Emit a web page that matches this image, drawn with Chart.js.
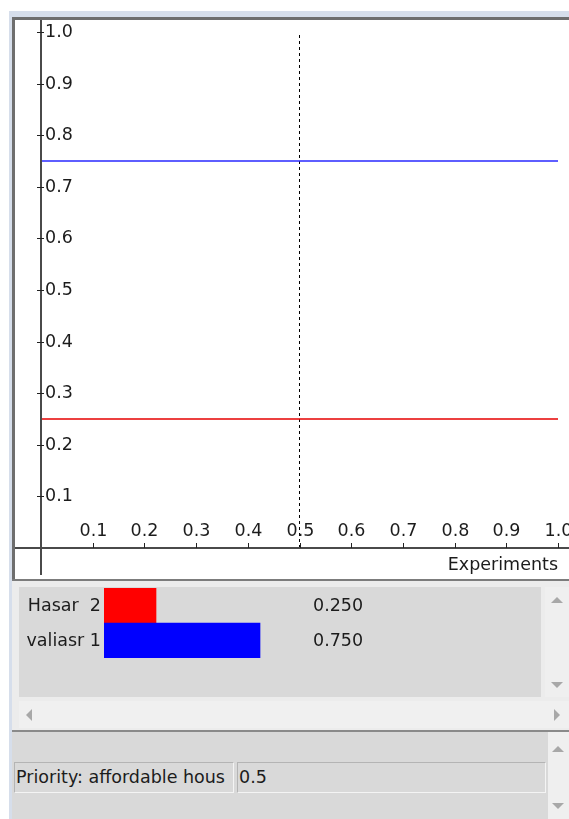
<!DOCTYPE html>
<html>
<head>
<meta charset="utf-8">
<script src="https://cdn.jsdelivr.net/npm/chart.js@4.4.1/dist/chart.umd.min.js"></script>
<style>
  body { margin: 0; width: 569px; height: 819px; overflow: hidden; background: #fff;
         font-family: "DejaVu Sans", sans-serif; font-size: 17.5px; color: #1c1c1c; position: relative; }
  .abs { position: absolute; }
  .up, .down, .left, .right { position: absolute; width: 0; height: 0; }
  .up { border-left: 6px solid transparent; border-right: 6px solid transparent; border-bottom: 6px solid #a8a8a8; }
  .down { border-left: 6px solid transparent; border-right: 6px solid transparent; border-top: 6px solid #a8a8a8; }
  .left { border-top: 6px solid transparent; border-bottom: 6px solid transparent; border-right: 6px solid #a8a8a8; }
  .right { border-top: 6px solid transparent; border-bottom: 6px solid transparent; border-left: 6px solid #a8a8a8; }
  .cell { position: absolute; box-sizing: border-box; height: 31px; line-height: 29px; padding-left: 1px;
          background: #d9d9d9; border: 1px solid #b4b4b4; border-right-color: #f4f4f4; border-bottom-color: #f4f4f4;
          white-space: nowrap; overflow: hidden; }
</style>
</head>
<body>
<!-- window frame -->
<div class="abs" style="left:9px;top:11px;width:560px;height:6px;background:#d6deeb"></div>
<div class="abs" style="left:9px;top:11px;width:3px;height:808px;background:#d6deeb"></div>
<div class="abs" style="left:12px;top:17px;width:557px;height:3px;background:#6e6e6e"></div>
<div class="abs" style="left:12px;top:17px;width:3px;height:563px;background:#6e6e6e"></div>

<!-- plot -->
<div class="abs" style="left:15px;top:20px;width:554px;height:559px">
  <canvas id="plot"></canvas>
</div>

<!-- alternatives list -->
<div class="abs" style="left:12px;top:579px;width:557px;height:152px;background:#ececec;border-top:2px solid #7c7c7c"></div>
<div class="abs" style="left:19px;top:587px;width:522px;height:110px;background:#d9d9d9">
  <canvas id="bars"></canvas>
</div>
<div class="abs" style="left:545px;top:587px;width:24px;height:110px;background:#efefef">
  <div class="up" style="left:6px;top:10px"></div>
  <div class="down" style="left:6px;top:95px"></div>
</div>
<div class="abs" style="left:19px;top:701px;width:550px;height:27px;background:#f0f0f0">
  <div class="left" style="left:7px;top:8px"></div>
  <div class="right" style="left:535px;top:8px"></div>
</div>

<!-- priority panel -->
<div class="abs" style="left:12px;top:730px;width:557px;height:89px;background:#d9d9d9;border-top:2px solid #8a8a8a"></div>
<div class="cell" style="left:14px;top:762px;width:220px">Priority: affordable hous</div>
<div class="cell" style="left:237px;top:762px;width:309px">0.5</div>
<div class="abs" style="left:548px;top:732px;width:21px;height:87px;background:#efefef">
  <div class="up" style="left:4px;top:14px"></div>
  <div class="down" style="left:4px;top:71px"></div>
</div>

<script>
// sensitivity data
const alternatives = ['Hasar  2', 'valiasr 1'];
const priorities = [0.25, 0.75];
const lineX = [0, 1];
const hasarY = [0.25, 0.25];
const valiasrY = [0.75, 0.75];
const currentPriority = 0.5;
const xTicks = [0.1, 0.2, 0.3, 0.4, 0.5, 0.6, 0.7, 0.8, 0.9, 1.0];
const yTicks = [0.1, 0.2, 0.3, 0.4, 0.5, 0.6, 0.7, 0.8, 0.9, 1.0];
const xTickLabels = ['0.1', '0.2', '0.3', '0.4', '0.5', '0.6', '0.7', '0.8', '0.9', '1.0'];
const yTickLabels = ['0.1', '0.2', '0.3', '0.4', '0.5', '0.6', '0.7', '0.8', '0.9', '1.0'];
const xTitle = 'Experiments';

const FONT = '17.5px "DejaVu Sans", sans-serif';
const INK = '#1c1c1c';

// axes drawn by hand, like the old java plot: labels inside
const axesPlugin = {
  id: 'axes',
  afterDraw(chart) {
    const ctx = chart.ctx;
    const a = chart.chartArea;
    const xs = chart.scales.x, ys = chart.scales.y;
    const left = Math.round(a.left), bottom = Math.round(a.bottom);
    ctx.save();
    ctx.strokeStyle = '#4a4a4a';
    ctx.lineWidth = 2;
    ctx.beginPath();
    ctx.moveTo(left, 0);
    ctx.lineTo(left, chart.height - 4);
    ctx.moveTo(0, bottom);
    ctx.lineTo(chart.width, bottom);
    ctx.stroke();

    ctx.lineWidth = 1;
    ctx.strokeStyle = '#222';
    ctx.fillStyle = INK;
    ctx.font = FONT;

    ctx.textAlign = 'left';
    ctx.textBaseline = 'middle';
    yTicks.forEach((v, i) => {
      const y = Math.round(ys.getPixelForValue(v)) + 0.5;
      ctx.beginPath();
      ctx.moveTo(left - 4, y);
      ctx.lineTo(left + 3, y);
      ctx.stroke();
      ctx.fillText(yTickLabels[i], left + 4, y);
    });

    ctx.textAlign = 'center';
    ctx.textBaseline = 'alphabetic';
    xTicks.forEach((v, i) => {
      const x = Math.round(xs.getPixelForValue(v)) + 0.5;
      ctx.beginPath();
      ctx.moveTo(x, bottom - 5);
      ctx.lineTo(x, bottom);
      ctx.stroke();
      ctx.fillText(xTickLabels[i], x, bottom - 12);
    });

    ctx.textAlign = 'right';
    ctx.textBaseline = 'middle';
    ctx.fillText(xTitle, a.right, bottom + 17);
    ctx.restore();
  }
};

new Chart(document.getElementById('plot'), {
  type: 'line',
  data: {
    datasets: [
      {
        label: alternatives[0],
        data: lineX.map((x, i) => ({ x: x, y: hasarY[i] })),
        borderColor: 'rgb(230, 0, 0)',
        borderWidth: 1.6
      },
      {
        label: alternatives[1],
        data: lineX.map((x, i) => ({ x: x, y: valiasrY[i] })),
        borderColor: 'rgb(40, 40, 255)',
        borderWidth: 1.6
      },
      {
        label: 'current',
        data: [{ x: currentPriority, y: 0 }, { x: currentPriority, y: 1 }],
        borderColor: 'rgb(0, 0, 0)',
        borderWidth: 1,
        borderDash: [3, 3]
      }
    ]
  },
  options: {
    responsive: true,
    maintainAspectRatio: false,
    animation: false,
    layout: { padding: { left: 26, right: 11, top: 12, bottom: 31 } },
    elements: { point: { radius: 0 } },
    plugins: { legend: { display: false }, tooltip: { enabled: false } },
    scales: {
      x: { type: 'linear', min: 0, max: 1, display: false },
      y: { type: 'linear', min: 0, max: 1, display: false }
    }
  },
  plugins: [axesPlugin]
});

// list of alternatives with their priority bars
const listLabels = {
  id: 'listLabels',
  afterDraw(chart) {
    const ctx = chart.ctx;
    const a = chart.chartArea;
    const ys = chart.scales.y;
    ctx.save();
    ctx.font = FONT;
    ctx.fillStyle = INK;
    ctx.textBaseline = 'middle';
    alternatives.forEach((name, i) => {
      const y = ys.getPixelForValue(i) + 1;
      ctx.textAlign = 'right';
      ctx.fillText(name, a.left - 3, y);
      ctx.textAlign = 'left';
      ctx.fillText(priorities[i].toFixed(3), a.right + 1, y);
    });
    ctx.restore();
  }
};

new Chart(document.getElementById('bars'), {
  type: 'bar',
  data: {
    labels: alternatives,
    datasets: [{
      data: priorities,
      backgroundColor: ['#ff0000', '#0000ff'],
      borderWidth: 0,
      barPercentage: 1,
      categoryPercentage: 1
    }]
  },
  options: {
    indexAxis: 'y',
    responsive: true,
    maintainAspectRatio: false,
    animation: false,
    layout: { padding: { left: 85, right: 229, top: 1, bottom: 39 } },
    plugins: { legend: { display: false }, tooltip: { enabled: false } },
    scales: {
      x: { type: 'linear', min: 0, max: 1, display: false },
      y: { display: false }
    }
  },
  plugins: [listLabels]
});
</script>
</body>
</html>
